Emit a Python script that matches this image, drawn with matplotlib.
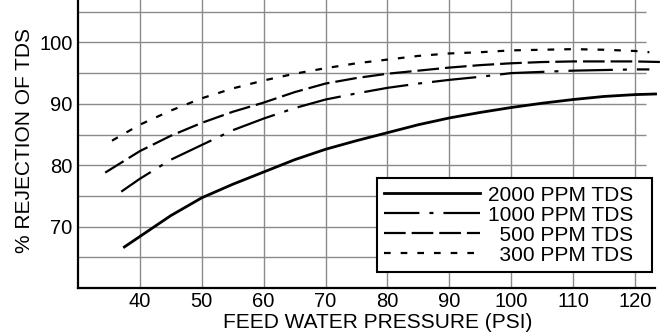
import numpy as np
import matplotlib
matplotlib.use('Agg')
import matplotlib.pyplot as plt

# values
psi_2000 = [37.5, 40, 45, 50, 55, 60, 65, 70, 75, 80, 85, 90, 95, 100, 105, 110, 115, 120, 123.3]
rej_2000 = [66.7, 68.4, 71.8, 74.7, 76.9, 78.9, 80.9, 82.6, 84.0, 85.3, 86.6, 87.7, 88.6, 89.4, 90.1, 90.7, 91.2, 91.5, 91.6]

psi_1000 = [37, 40, 45, 50, 55, 60, 65, 70, 75, 80, 85, 90, 95, 100, 105, 110, 115, 120, 122.3]
rej_1000 = [75.7, 77.8, 80.9, 83.3, 85.7, 87.6, 89.3, 90.7, 91.7, 92.6, 93.3, 93.9, 94.4, 95.0, 95.2, 95.4, 95.5, 95.6, 95.6]

psi_500 = [34.4, 40, 45, 50, 55, 60, 65, 70, 75, 80, 85, 90, 95, 100, 105, 110, 115, 120, 124.4]
rej_500 = [78.8, 82.3, 84.8, 86.9, 88.7, 90.2, 91.9, 93.3, 94.2, 94.9, 95.4, 95.9, 96.3, 96.6, 96.8, 96.9, 96.9, 96.9, 96.8]

psi_300 = [35.5, 40, 45, 50, 55, 60, 65, 70, 75, 80, 85, 90, 95, 100, 105, 110, 115, 120, 122.3]
rej_300 = [84.0, 86.6, 88.9, 90.9, 92.5, 93.8, 94.9, 95.8, 96.6, 97.2, 97.8, 98.2, 98.4, 98.7, 98.8, 98.9, 98.8, 98.6, 98.4]

labels = ['2000 PPM TDS  ', '1000 PPM TDS  ', '  500 PPM TDS  ', '  300 PPM TDS  ']
x_ticks = [40, 50, 60, 70, 80, 90, 100, 110, 120]
y_ticks = [70, 80, 90, 100]
y_grid = [65, 70, 75, 80, 85, 90, 95, 100, 105]

plt.rcParams['font.family'] = ['Liberation Sans', 'DejaVu Sans']
plt.rcParams['lines.scale_dashes'] = False

fig = plt.figure(figsize=(6.72, 3.35), dpi=100)
ax = fig.add_axes([0.116, 0.14, 0.8586, 0.86])

# grid: vertical full height, horizontal stopping a bit short of the axis end
for x in x_ticks:
    ax.axvline(x, color='#8a8a8a', lw=1.0, zorder=1)
ax.hlines(y_grid, 30, 121.8, color='#8a8a8a', lw=1.0, zorder=1)

ax.plot(psi_2000, rej_2000, color='black', lw=2.0, ls='-', label=labels[0], clip_on=False, zorder=3)
ax.plot(psi_1000, rej_1000, color='black', lw=1.6, ls=(6.5, (32, 7.2, 2.9, 7.2)), label=labels[1], clip_on=False, zorder=3)
ax.plot(psi_500, rej_500, color='black', lw=1.6, ls=(0, (15.6, 4.3)), label=labels[2], clip_on=False, zorder=3)
ax.plot(psi_300, rej_300, color='black', lw=1.6, ls=(0, (4.8, 7.2)), label=labels[3], clip_on=False, zorder=3)

ax.set_xlim(30, 123.2)
ax.set_ylim(60, 106.9)
ax.set_xticks(x_ticks)
ax.set_yticks(y_ticks)
ax.tick_params(length=0, labelsize=14.5)
ax.tick_params(axis='x', pad=3)
ax.tick_params(axis='y', pad=4)

for s in ['top', 'right']:
    ax.spines[s].set_visible(False)
ax.spines['left'].set_linewidth(1.6)
ax.spines['bottom'].set_linewidth(1.6)

ax.set_xlabel('FEED WATER PRESSURE (PSI)', fontsize=15)
ax.set_ylabel('% REJECTION OF TDS', fontsize=15)
ax.xaxis.set_label_coords(0.52, -0.085)
ax.yaxis.set_label_coords(-0.076, 0.514)

leg = ax.legend(loc='lower right', bbox_to_anchor=(0.995, 0.056), borderaxespad=0,
                fontsize=15, handlelength=4.57, handletextpad=0.4, labelspacing=0.05,
                borderpad=0.35, fancybox=False, framealpha=1, edgecolor='black')
leg.get_frame().set_linewidth(1.5)

fig.savefig('out.png', dpi=100)
